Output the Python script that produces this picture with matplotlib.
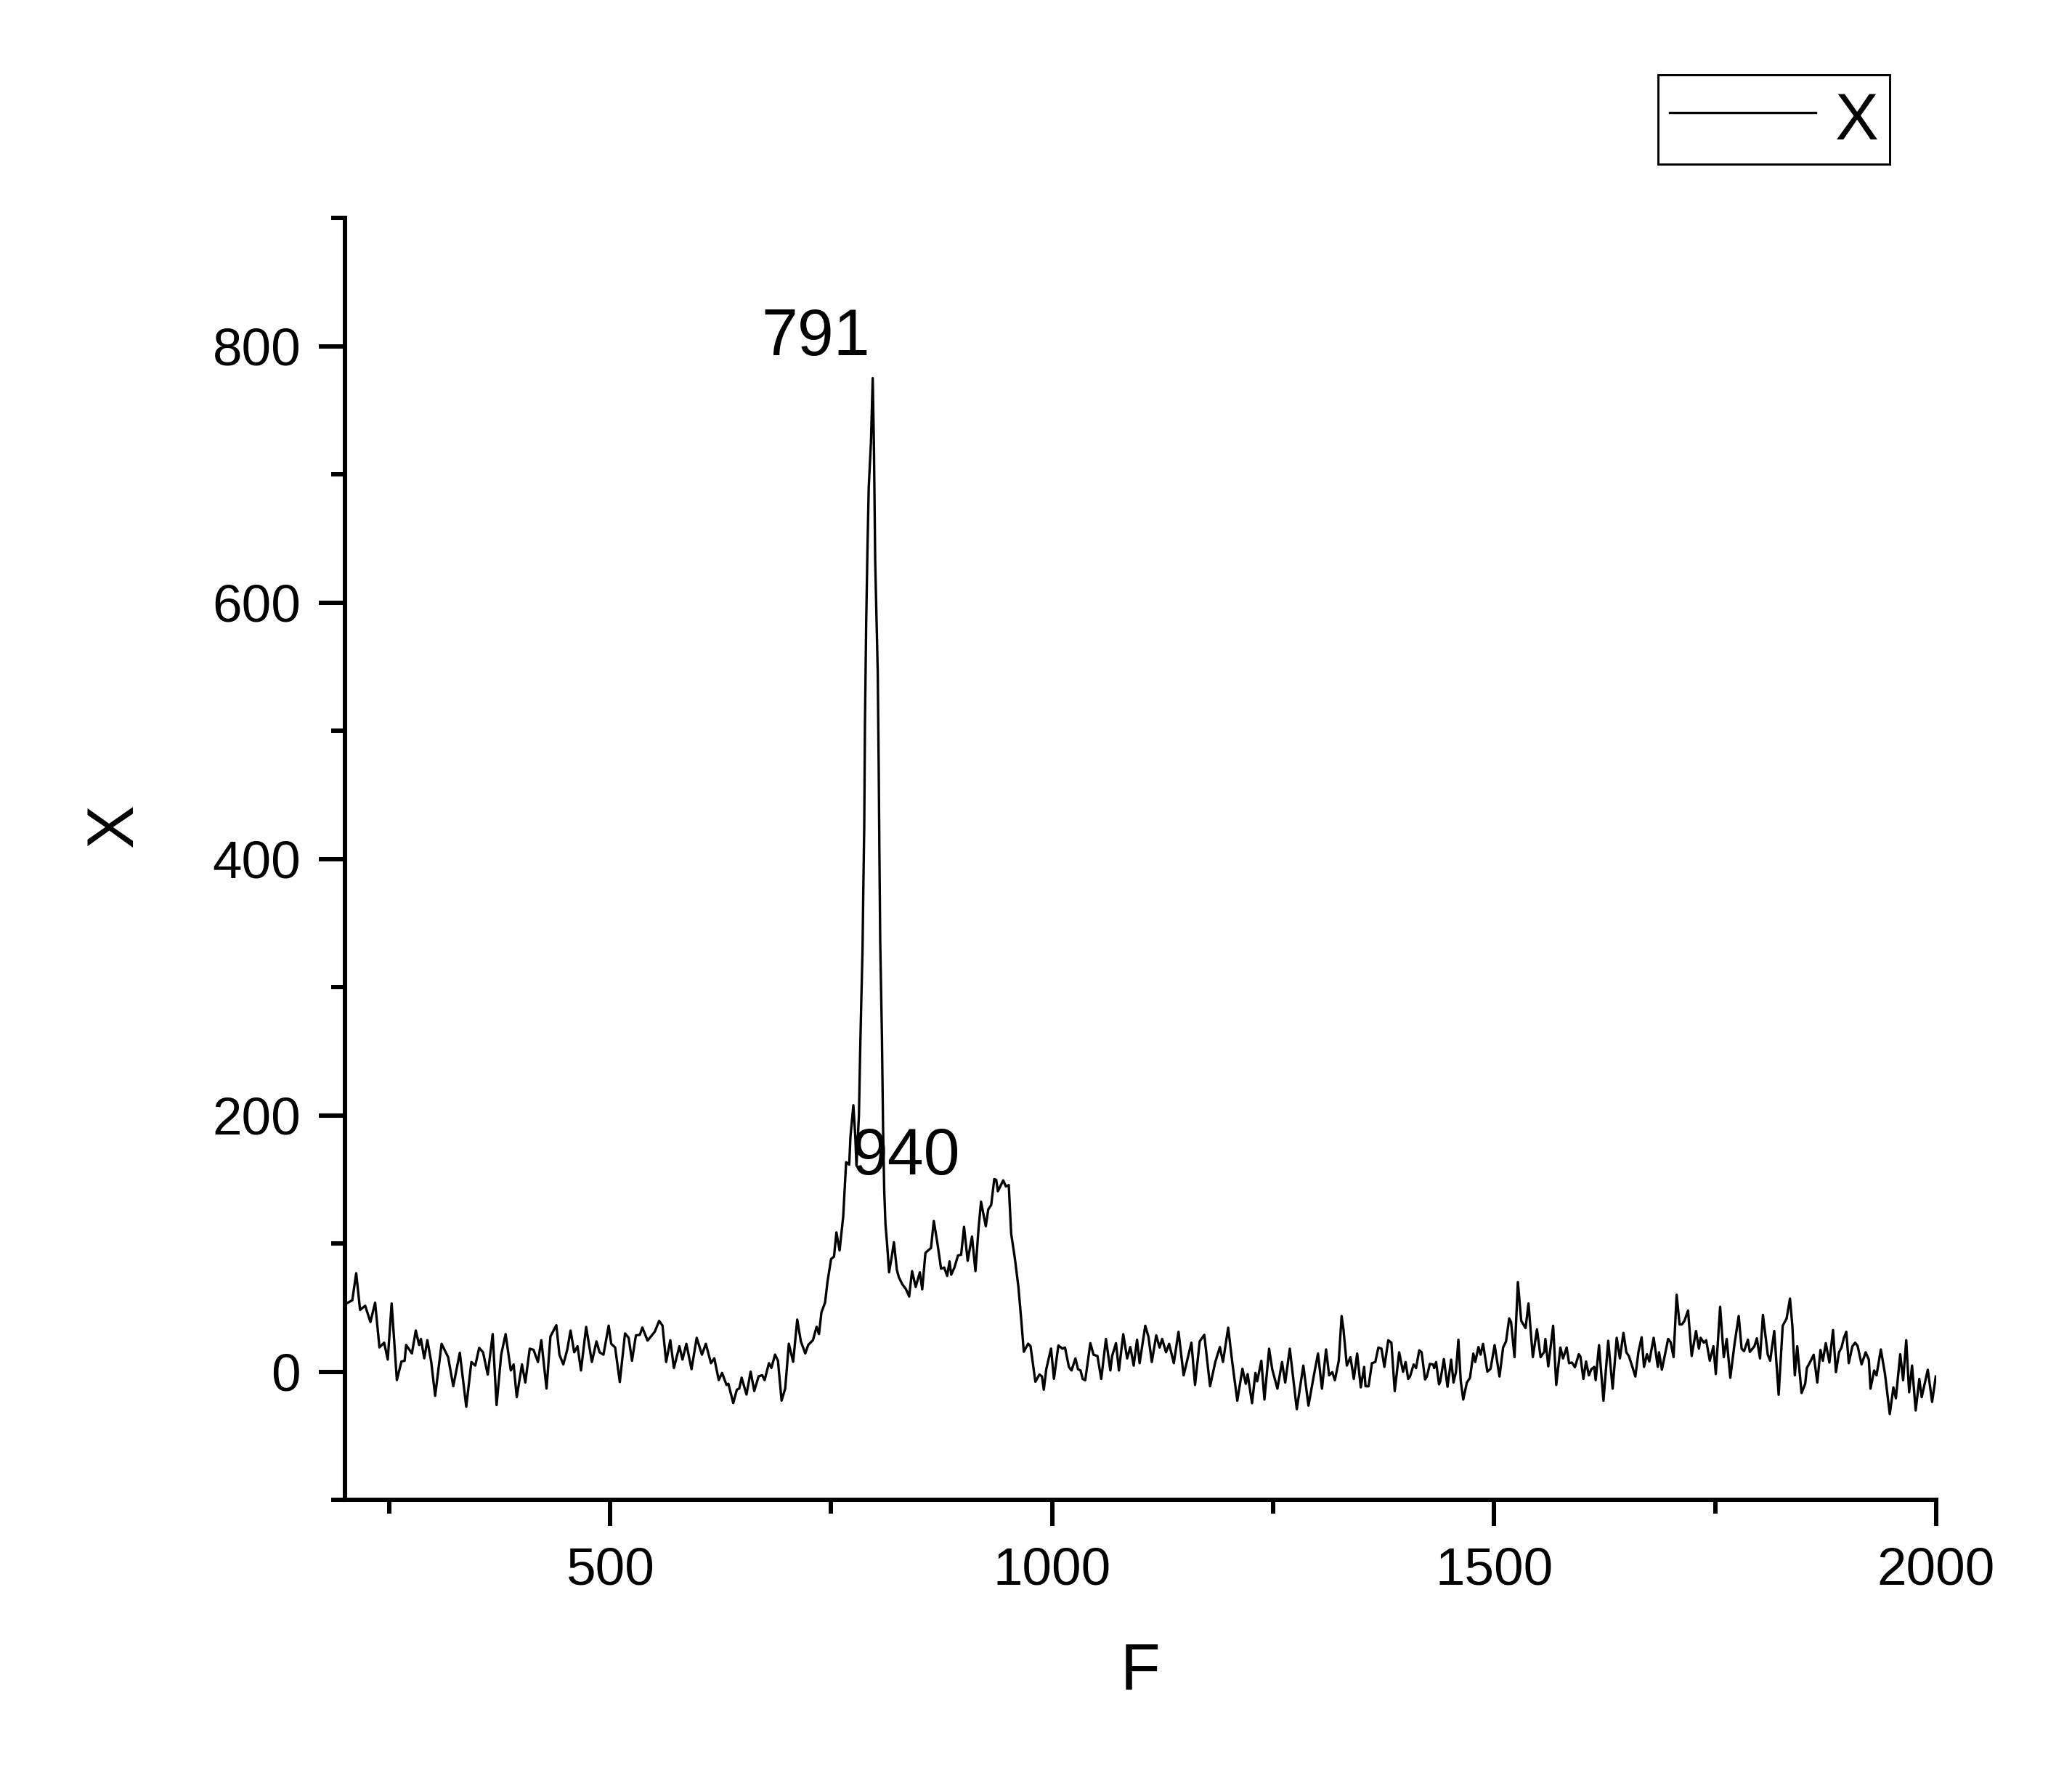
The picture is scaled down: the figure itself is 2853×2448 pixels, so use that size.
import matplotlib
matplotlib.use("Agg")
import matplotlib.pyplot as plt
from matplotlib.ticker import MultipleLocator

plt.rcParams['font.family'] = ['Liberation Sans', 'DejaVu Sans']

# ---- data ----
f_low = [203.3, 208.3, 212.7, 217.1, 222.9, 228.8, 234.1, 239.0, 244.3, 248.4, 252.8, 258.7, 263.9, 267.5,
         269.2, 275.7, 280.1, 283.9, 285.9, 289.7, 293.2, 297.6, 302.0, 309.3, 316.7, 322.5, 329.9, 337.2,
         343.0, 347.4, 351.8, 356.2, 361.5, 367.1, 371.5, 376.7, 381.7, 387.6, 390.8, 394.3, 400.2, 404.0,
         409.0, 413.3, 418.3, 422.1, 428.0, 432.4, 439.1, 442.6, 447.0, 451.4, 455.2, 459.3, 463.1, 467.0,
         472.8, 479.3, 484.5, 488.0, 492.4, 498.3, 501.2, 505.6, 510.9, 516.8, 520.9, 524.7, 529.1, 533.5,
         536.4, 542.3, 546.0, 550.5, 555.4, 559.2, 563.3, 568.0, 572.1, 578.3, 581.8, 586.2, 592.0, 597.9,
         603.8, 608.2, 614.0, 617.8, 622.8, 626.6, 631.6]
x_low = [53.8, 55.7, 76.8, 48.1, 51.4, 38.7, 53.8, 18.9, 22.6, 9.4, 53.2, -6.6, 7.9, 8.5,
         20.8, 14.2, 32.1, 20.8, 25.5, 10.4, 24.5, 7.5, -18.9, 21.7, 11.3, -11.4, 14.7, -27.4,
         7.5, 4.7, 18.5, 15.1, -2.3, 29.3, -26.1, 13.2, 29.3, 0.9, 5.6, -19.9, 5.6, -8.5,
         17.9, 17.0, 7.5, 24.5, -13.2, 27.4, 36.2, 13.2, 5.6, 17.0, 32.1, 15.1, 19.8, 0.9,
         34.9, 7.5, 23.6, 15.1, 13.2, 35.9, 21.7, 18.9, -8.1, 29.8, 26.4, 8.5, 28.3, 28.7,
         34.4, 24.2, 27.4, 31.2, 39.6, 35.9, 7.5, 24.5, 2.8, 19.8, 9.4, 21.7, 1.9, 26.4,
         13.2, 21.7, 6.6, 10.4, -6.6, -1.0, -10.4]

f_peak = [633.7, 639.2, 643.3, 646.0, 648.7, 654.2, 658.9, 663.0, 667.9, 672.0, 674.7, 679.6, 682.4, 686.5,
          689.8, 693.9, 698.0, 702.1, 707.0, 711.6, 715.7, 720.7, 724.0, 729.4, 733.5, 736.2, 739.0, 743.1,
          745.8, 749.9, 753.2, 755.9, 759.5, 763.6, 766.9, 770.4, 771.8, 775.1, 777.3, 778.6, 781.4, 782.8,
          784.1, 785.5, 786.3, 787.4, 788.2, 789.6, 791.0, 792.5, 795.0, 797.0, 798.4, 799.8, 802.7, 803.8,
          804.6, 805.5, 807.4, 808.7, 810.0, 811.4, 813.4, 815.5, 818.3, 821.0, 824.3, 826.5, 830.6, 834.7,
          838.2, 841.5, 845.6, 850.3, 853.0, 856.6, 860.1, 862.9, 866.1, 870.2, 874.3, 877.9, 881.2, 883.9,
          885.8, 889.4, 893.5, 897.0, 900.3, 904.4, 909.3, 913.2, 916.7, 919.5, 924.9, 927.7, 931.0, 934.5,
          936.7, 938.6, 941.3, 944.6, 947.6, 950.9, 953.6, 957.7, 961.8, 965.1, 967.9, 972.8, 975.5, 981.0,
          985.6, 988.4, 990.5, 993.3, 998.7, 1002.0, 1007.0]
x_peak = [-9.4, -24.5, -14.1, -13.2, -4.7, -17.9, 0.0, -15.1, -3.7, -2.8, -6.6, 6.6, 2.9, 13.3,
          8.5, -22.6, -13.2, 21.8, 7.6, 40.6, 23.6, 14.2, 20.8, 24.6, 35.0, 29.3, 46.3, 53.9,
          69.9, 87.9, 89.7, 108.6, 94.5, 120.9, 163.4, 161.5, 183.2, 207.8, 183.2, 160.6, 200.0, 250.0,
          290.0, 330.0, 374.0, 425.0, 505.0, 584.0, 640.0, 690.0, 725.0, 775.0, 720.0, 632.0, 545.0, 469.0,
          401.0, 334.0, 262.0, 190.0, 141.7, 115.2, 98.2, 77.5, 88.8, 101.0, 79.4, 73.7, 68.0, 64.2,
          58.6, 78.4, 66.1, 77.5, 64.2, 92.6, 94.8, 96.4, 117.5, 100.1, 80.3, 81.2, 74.6, 86.0,
          75.6, 81.2, 90.7, 91.1, 113.0, 86.5, 105.4, 78.4, 111.5, 132.6, 113.4, 126.6, 130.0, 150.2,
          149.6, 140.7, 144.5, 149.2, 144.5, 145.5, 107.7, 88.8, 66.1, 39.7, 15.5, 21.8, 19.9, -7.9,
          -2.2, -3.7, -14.1, 1.9, 18.0, -5.6, 20.4]

f_mid = [1011.6, 1014.5, 1018.9, 1021.9, 1026.3, 1029.2, 1032.1, 1034.5, 1037.4, 1043.2, 1046.8, 1051.2,
         1055.5, 1060.8, 1065.8, 1067.8, 1072.2, 1075.5, 1080.4, 1084.8, 1088.4, 1092.2, 1096.0, 1098.9,
         1105.3, 1108.9, 1112.7, 1117.7, 1121.5, 1124.4, 1128.8, 1132.3, 1137.6, 1142.9, 1148.7, 1157.5,
         1161.6, 1166.9, 1172.1, 1178.6, 1184.5, 1189.7, 1193.2, 1199.1, 1203.5, 1209.4, 1215.2, 1219.0,
         1221.1, 1226.1, 1229.9, 1231.9, 1236.6, 1240.1, 1245.4, 1248.9, 1254.8, 1260.0, 1263.6, 1268.8,
         1276.7, 1284.1, 1289.9, 1295.8, 1300.7, 1305.2, 1309.8, 1313.3, 1316.9, 1319.8, 1324.2, 1327.4,
         1329.5, 1333.3, 1337.4, 1341.2, 1345.0, 1349.1, 1352.9, 1354.4, 1357.9, 1361.7, 1365.5, 1369.0,
         1372.5, 1375.8, 1380.2, 1383.7, 1387.5, 1392.5, 1396.9, 1399.8, 1402.7]
x_mid = [17.9, 18.8, 3.7, 0.9, 10.3, 1.9, 0.9, -5.7, -6.7, 22.2, 13.2, 12.2,
         -5.7, 25.5, 0.9, 12.2, 22.2, 0.9, 29.2, 10.3, 19.2, 4.7, 24.9, 6.6,
         35.8, 27.3, 7.5, 28.3, 18.8, 25.5, 15.1, 21.7, 6.6, 31.1, -2.9, 22.6,
         -10.4, 23.6, 28.7, -11.4, 7.5, 19.2, 7.5, 34.3, 8.5, -22.7, 2.2, -9.5,
         -1.9, -24.6, -1.0, -7.6, 8.5, -21.8, 17.9, 1.9, -13.3, 7.5, -8.5, 17.9,
         -29.3, 4.7, -26.5, -3.8, 14.1, -13.3, 17.3, -2.9, -0.4, -6.7, 8.5, 43.4,
         33.0, 4.7, 11.3, -5.7, 14.1, -12.3, 3.7, -11.4, -11.4, 6.6, 7.5, 18.8,
         17.9, 3.7, 24.5, 22.6, -15.2, 15.1, -0.1, 7.5, -5.7]

f_high = [1404.8, 1408.9, 1411.6, 1415.2, 1417.9, 1421.8, 1423.9, 1427.2, 1430.8, 1432.1, 1434.3, 1437.6,
          1439.0, 1443.1, 1447.2, 1451.3, 1454.0, 1456.8, 1459.5, 1462.2, 1465.0, 1469.1, 1472.6, 1476.4,
          1478.6, 1482.2, 1484.6, 1487.4, 1492.3, 1495.9, 1500.5, 1506.0, 1510.1, 1513.4, 1517.0, 1519.1,
          1523.0, 1526.8, 1530.6, 1535.5, 1538.8, 1543.7, 1548.4, 1552.5, 1556.6, 1557.9, 1561.2, 1566.7,
          1570.2, 1574.9, 1577.9, 1582.0, 1584.7, 1588.0, 1591.3, 1595.7, 1597.6, 1600.9, 1603.9, 1607.1,
          1609.9, 1613.2, 1614.8, 1618.6, 1623.6, 1629.0, 1634.0, 1638.6, 1642.2, 1646.2, 1649.5, 1652.3,
          1655.0, 1659.7, 1663.2, 1666.8, 1669.5, 1672.8, 1675.5, 1680.4, 1685.1, 1686.5, 1689.7, 1696.8,
          1699.6, 1702.9, 1706.4, 1709.7, 1712.4, 1715.2, 1719.3, 1723.4, 1728.3, 1731.6, 1733.5, 1737.1,
          1739.8, 1743.9, 1748.0, 1750.7, 1755.6, 1759.7, 1763.0]
x_high = [-3.8, 5.6, 2.8, 16.6, 15.1, -6.1, -3.8, 6.0, 5.6, 2.8, 7.5, -9.9,
          -7.6, 9.8, -11.8, 9.4, -8.5, 0.0, 24.9, -7.6, -21.8, -8.5, -4.8, 14.1,
          7.5, 19.2, 13.2, 21.7, 0.0, 2.2, 20.7, -3.8, 18.8, 23.6, 41.5, 38.7,
          11.3, 69.8, 39.6, 34.0, 53.2, 11.3, 33.0, 11.3, 15.4, 25.5, 4.1, 35.8,
          -10.4, 18.8, 10.3, 18.8, 6.6, 7.1, 3.4, 13.6, 11.7, -5.7, 7.9, -2.9,
          1.9, 3.7, -6.7, 20.7, -22.7, 24.1, -13.3, 26.4, 10.3, 30.2, 15.1, 12.2,
          6.6, -3.8, 15.4, 26.8, 3.7, 13.6, 7.9, 26.4, 3.7, 15.1, 1.5, 25.5,
          23.0, 11.3, 60.0, 36.8, 36.8, 39.6, 47.7, 12.2, 31.7, 17.9, 26.4, 22.6,
          24.5, 8.5, 19.8, -1.9, 50.6, 11.3, 25.5]

f_end = [1767.1, 1771.7, 1776.6, 1779.9, 1782.7, 1787.0, 1789.2, 1794.4, 1797.1, 1800.7, 1804.0, 1809.5,
         1812.2, 1816.8, 1821.8, 1826.4, 1830.8, 1834.6, 1837.3, 1840.1, 1842.8, 1847.7, 1851.8, 1853.7,
         1858.1, 1861.4, 1865.5, 1869.1, 1871.8, 1875.1, 1879.2, 1883.3, 1886.6, 1890.1, 1892.9, 1895.6,
         1898.3, 1901.1, 1905.2, 1908.4, 1911.2, 1915.6, 1920.2, 1923.8, 1925.7, 1929.8, 1932.5, 1937.4,
         1942.1, 1947.5, 1951.6, 1954.4, 1959.3, 1962.6, 1966.1, 1969.4, 1972.7, 1976.8, 1980.9, 1983.6,
         1990.5, 1995.4, 1999.5]
x_end = [-4.8, 20.7, 43.4, 17.9, 16.0, 24.9, 15.4, 19.8, 26.0, 10.3, 44.3, 13.2,
         8.5, 31.7, -18.0, 35.8, 41.5, 57.0, 35.8, -2.9, 19.8, -16.7, -9.5, 2.8,
         8.5, 13.2, -8.5, 16.9, 8.5, 22.2, 7.1, 32.4, -0.4, 15.1, 18.8, 26.4,
         31.1, 6.6, 19.8, 22.6, 19.8, 5.6, 15.1, 9.4, -13.3, 0.9, -2.9, 17.3,
         -1.9, -33.1, -12.3, -20.8, 13.6, -6.7, 24.5, -16.1, 4.7, -30.3, -5.7, -19.9,
         1.5, -23.6, -3.8]

F = f_low + f_peak + f_mid + f_high + f_end
X = x_low + x_peak + x_mid + x_high + x_end

peak_labels = ["791", "940"]
peak_label_pos = [(732.6, 806.0), (834.3, 167.0)]

# ---- figure ----
W, H, DPI = 2853, 2448, 300
fig = plt.figure(figsize=(W / DPI, H / DPI), dpi=DPI)
ax = fig.add_axes([475 / W, 1 - 2065 / H, (2666 - 475) / W, (2065 - 300) / H])

line, = ax.plot(F, X, color='black', lw=0.8, label='X')

ax.set_xlim(200, 2000)
ax.set_ylim(-100, 900)
ax.xaxis.set_major_locator(MultipleLocator(500))
ax.xaxis.set_minor_locator(MultipleLocator(250))
ax.yaxis.set_major_locator(MultipleLocator(200))
ax.yaxis.set_minor_locator(MultipleLocator(100))
ax.set_yticks([0, 200, 400, 600, 800])

for s in ['top', 'right']:
    ax.spines[s].set_visible(False)
for s in ['left', 'bottom']:
    ax.spines[s].set_linewidth(1.45)

ax.tick_params(which='major', direction='out', length=8.6, width=1.45, labelsize=17.5)
ax.tick_params(which='minor', direction='out', length=4.5, width=1.45)
ax.tick_params(axis='y', which='major', pad=6)
ax.tick_params(axis='x', which='major', pad=7)

ax.set_xlabel('F', fontsize=21.5, labelpad=15)
ax.set_ylabel('X', fontsize=21.5, labelpad=22)
ax.yaxis.label.set_y(0.526)

for txt, (px, py) in zip(peak_labels, peak_label_pos):
    ax.text(px, py, txt, fontsize=21.5, ha='center', va='center')

leg = ax.legend(loc='upper right', bbox_to_anchor=(2602 / W, 1 - 103 / H),
                bbox_transform=fig.transFigure, borderaxespad=0, fontsize=21.5,
                frameon=True, fancybox=False, shadow=False, handlelength=2.25,
                handleheight=1.1, handletextpad=0.3, borderpad=0.17)
frame = leg.get_frame()
frame.set_edgecolor('black')
frame.set_linewidth(0.7)
frame.set_alpha(1)

fig.savefig('out.png', dpi=DPI)
